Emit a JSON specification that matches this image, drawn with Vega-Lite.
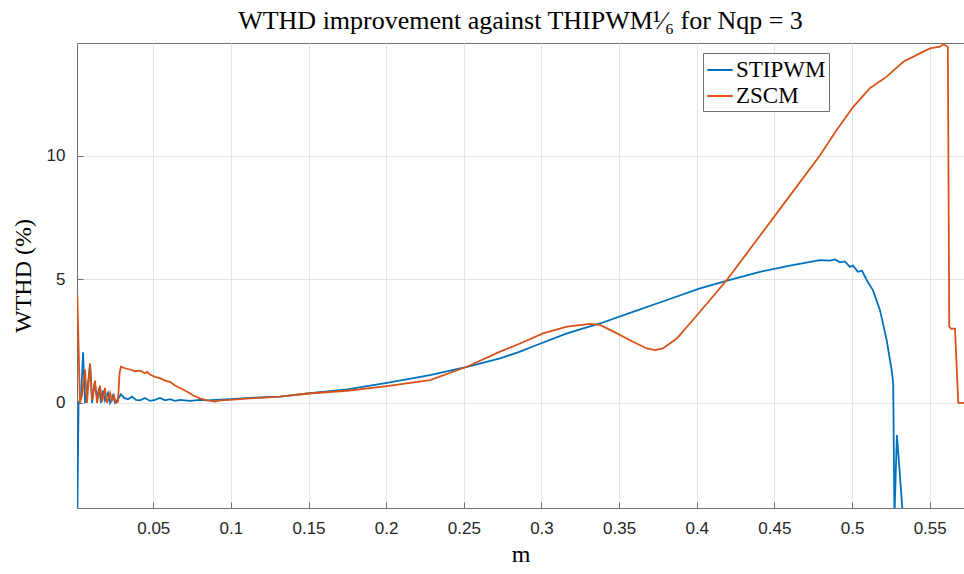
{
  "$schema": "https://vega.github.io/schema/vega-lite/v6.json",
  "width": 887,
  "height": 465,
  "autosize": {"type": "none"},
  "padding": {"left": 77, "top": 43, "right": 0, "bottom": 66},
  "background": "white",
  "title": {
    "text": "WTHD improvement against THIPWM¹⁄₆ for Nqp = 3",
    "font": "Liberation Serif",
    "fontSize": 26,
    "fontWeight": "normal",
    "color": "#000000",
    "anchor": "middle",
    "offset": 9
  },
  "config": {
    "view": {"stroke": "#707070", "strokeWidth": 1},
    "axis": {
      "labelFont": "Liberation Sans",
      "labelFontSize": 17,
      "labelColor": "#262626",
      "titleFont": "Liberation Serif",
      "titleFontSize": 24,
      "titleFontWeight": "normal",
      "titleColor": "#000000",
      "domainColor": "#707070",
      "tickColor": "#707070",
      "gridColor": "#e4e4e4",
      "gridWidth": 1
    },
    "legend": {
      "labelFont": "Liberation Serif",
      "labelFontSize": 23,
      "labelColor": "#000000"
    }
  },
  "data": {
    "values": [
      {"m": 0.0011, "v": -4.6, "s": "STIPWM"},
      {"m": 0.0019, "v": 0, "s": "STIPWM"},
      {"m": 0.0035, "v": 0.2, "s": "STIPWM"},
      {"m": 0.0048, "v": 2.05, "s": "STIPWM"},
      {"m": 0.0061, "v": 0, "s": "STIPWM"},
      {"m": 0.0077, "v": 0.6, "s": "STIPWM"},
      {"m": 0.0093, "v": 1.55, "s": "STIPWM"},
      {"m": 0.0106, "v": 0, "s": "STIPWM"},
      {"m": 0.0122, "v": 0.8, "s": "STIPWM"},
      {"m": 0.0138, "v": 0.2, "s": "STIPWM"},
      {"m": 0.0151, "v": 0.6, "s": "STIPWM"},
      {"m": 0.0164, "v": 0, "s": "STIPWM"},
      {"m": 0.0176, "v": 0.5, "s": "STIPWM"},
      {"m": 0.0189, "v": 0.1, "s": "STIPWM"},
      {"m": 0.0209, "v": 0.4, "s": "STIPWM"},
      {"m": 0.0222, "v": 0, "s": "STIPWM"},
      {"m": 0.0241, "v": 0.3, "s": "STIPWM"},
      {"m": 0.0254, "v": 0, "s": "STIPWM"},
      {"m": 0.0273, "v": 0.15, "s": "STIPWM"},
      {"m": 0.0292, "v": 0.35, "s": "STIPWM"},
      {"m": 0.0312, "v": 0.2, "s": "STIPWM"},
      {"m": 0.0337, "v": 0.15, "s": "STIPWM"},
      {"m": 0.0363, "v": 0.25, "s": "STIPWM"},
      {"m": 0.0389, "v": 0.12, "s": "STIPWM"},
      {"m": 0.0415, "v": 0.1, "s": "STIPWM"},
      {"m": 0.0447, "v": 0.2, "s": "STIPWM"},
      {"m": 0.0479, "v": 0.08, "s": "STIPWM"},
      {"m": 0.0511, "v": 0.12, "s": "STIPWM"},
      {"m": 0.0543, "v": 0.2, "s": "STIPWM"},
      {"m": 0.0576, "v": 0.1, "s": "STIPWM"},
      {"m": 0.0608, "v": 0.15, "s": "STIPWM"},
      {"m": 0.064, "v": 0.08, "s": "STIPWM"},
      {"m": 0.0672, "v": 0.12, "s": "STIPWM"},
      {"m": 0.0737, "v": 0.08, "s": "STIPWM"},
      {"m": 0.0801, "v": 0.12, "s": "STIPWM"},
      {"m": 0.0846, "v": 0.1, "s": "STIPWM"},
      {"m": 0.0898, "v": 0.12, "s": "STIPWM"},
      {"m": 0.0994, "v": 0.15, "s": "STIPWM"},
      {"m": 0.1123, "v": 0.2, "s": "STIPWM"},
      {"m": 0.1316, "v": 0.25, "s": "STIPWM"},
      {"m": 0.1496, "v": 0.38, "s": "STIPWM"},
      {"m": 0.1748, "v": 0.55, "s": "STIPWM"},
      {"m": 0.2005, "v": 0.81, "s": "STIPWM"},
      {"m": 0.2282, "v": 1.12, "s": "STIPWM"},
      {"m": 0.252, "v": 1.46, "s": "STIPWM"},
      {"m": 0.2733, "v": 1.8, "s": "STIPWM"},
      {"m": 0.2862, "v": 2.07, "s": "STIPWM"},
      {"m": 0.2945, "v": 2.28, "s": "STIPWM"},
      {"m": 0.3164, "v": 2.81, "s": "STIPWM"},
      {"m": 0.3377, "v": 3.21, "s": "STIPWM"},
      {"m": 0.3589, "v": 3.68, "s": "STIPWM"},
      {"m": 0.3808, "v": 4.16, "s": "STIPWM"},
      {"m": 0.4021, "v": 4.63, "s": "STIPWM"},
      {"m": 0.4214, "v": 4.97, "s": "STIPWM"},
      {"m": 0.4407, "v": 5.3, "s": "STIPWM"},
      {"m": 0.46, "v": 5.55, "s": "STIPWM"},
      {"m": 0.4793, "v": 5.77, "s": "STIPWM"},
      {"m": 0.4858, "v": 5.75, "s": "STIPWM"},
      {"m": 0.489, "v": 5.8, "s": "STIPWM"},
      {"m": 0.4922, "v": 5.68, "s": "STIPWM"},
      {"m": 0.4954, "v": 5.72, "s": "STIPWM"},
      {"m": 0.4986, "v": 5.5, "s": "STIPWM"},
      {"m": 0.5006, "v": 5.55, "s": "STIPWM"},
      {"m": 0.5038, "v": 5.3, "s": "STIPWM"},
      {"m": 0.5064, "v": 5.35, "s": "STIPWM"},
      {"m": 0.5094, "v": 4.97, "s": "STIPWM"},
      {"m": 0.5135, "v": 4.55, "s": "STIPWM"},
      {"m": 0.518, "v": 3.75, "s": "STIPWM"},
      {"m": 0.5223, "v": 2.54, "s": "STIPWM"},
      {"m": 0.5255, "v": 1.33, "s": "STIPWM"},
      {"m": 0.5265, "v": 0.79, "s": "STIPWM"},
      {"m": 0.5273, "v": -4.6, "s": "STIPWM"},
      {"m": 0.5289, "v": -1.3, "s": "STIPWM"},
      {"m": 0.5328, "v": -4.6, "s": "STIPWM"},
      {"m": 0.0011, "v": 4.36, "s": "ZSCM"},
      {"m": 0.0028, "v": 0, "s": "ZSCM"},
      {"m": 0.0041, "v": 0.3, "s": "ZSCM"},
      {"m": 0.0061, "v": 1.35, "s": "ZSCM"},
      {"m": 0.0073, "v": 0, "s": "ZSCM"},
      {"m": 0.0093, "v": 1.6, "s": "ZSCM"},
      {"m": 0.0106, "v": 0.1, "s": "ZSCM"},
      {"m": 0.0125, "v": 0.9, "s": "ZSCM"},
      {"m": 0.0138, "v": 0, "s": "ZSCM"},
      {"m": 0.0157, "v": 0.7, "s": "ZSCM"},
      {"m": 0.017, "v": 0.05, "s": "ZSCM"},
      {"m": 0.0189, "v": 0.6, "s": "ZSCM"},
      {"m": 0.0202, "v": 0, "s": "ZSCM"},
      {"m": 0.0222, "v": 0.4, "s": "ZSCM"},
      {"m": 0.0234, "v": 0.1, "s": "ZSCM"},
      {"m": 0.0247, "v": 0.3, "s": "ZSCM"},
      {"m": 0.026, "v": 0, "s": "ZSCM"},
      {"m": 0.0273, "v": 0.05, "s": "ZSCM"},
      {"m": 0.0283, "v": 1.2, "s": "ZSCM"},
      {"m": 0.0292, "v": 1.46, "s": "ZSCM"},
      {"m": 0.0318, "v": 1.4, "s": "ZSCM"},
      {"m": 0.035, "v": 1.35, "s": "ZSCM"},
      {"m": 0.0382, "v": 1.28, "s": "ZSCM"},
      {"m": 0.0415, "v": 1.3, "s": "ZSCM"},
      {"m": 0.0447, "v": 1.2, "s": "ZSCM"},
      {"m": 0.046, "v": 1.25, "s": "ZSCM"},
      {"m": 0.0479, "v": 1.15, "s": "ZSCM"},
      {"m": 0.0511, "v": 1.05, "s": "ZSCM"},
      {"m": 0.0543, "v": 1.0, "s": "ZSCM"},
      {"m": 0.0576, "v": 0.9, "s": "ZSCM"},
      {"m": 0.0608, "v": 0.85, "s": "ZSCM"},
      {"m": 0.064, "v": 0.7, "s": "ZSCM"},
      {"m": 0.0672, "v": 0.6, "s": "ZSCM"},
      {"m": 0.0704, "v": 0.5, "s": "ZSCM"},
      {"m": 0.0756, "v": 0.31, "s": "ZSCM"},
      {"m": 0.0801, "v": 0.18, "s": "ZSCM"},
      {"m": 0.0846, "v": 0.1, "s": "ZSCM"},
      {"m": 0.0898, "v": 0.05, "s": "ZSCM"},
      {"m": 0.093, "v": 0.1, "s": "ZSCM"},
      {"m": 0.0994, "v": 0.12, "s": "ZSCM"},
      {"m": 0.1123, "v": 0.18, "s": "ZSCM"},
      {"m": 0.1316, "v": 0.25, "s": "ZSCM"},
      {"m": 0.1496, "v": 0.38, "s": "ZSCM"},
      {"m": 0.1748, "v": 0.49, "s": "ZSCM"},
      {"m": 0.2005, "v": 0.68, "s": "ZSCM"},
      {"m": 0.2282, "v": 0.92, "s": "ZSCM"},
      {"m": 0.252, "v": 1.46, "s": "ZSCM"},
      {"m": 0.2733, "v": 2.07, "s": "ZSCM"},
      {"m": 0.2862, "v": 2.4, "s": "ZSCM"},
      {"m": 0.301, "v": 2.81, "s": "ZSCM"},
      {"m": 0.3164, "v": 3.08, "s": "ZSCM"},
      {"m": 0.3312, "v": 3.19, "s": "ZSCM"},
      {"m": 0.3377, "v": 3.15, "s": "ZSCM"},
      {"m": 0.3486, "v": 2.81, "s": "ZSCM"},
      {"m": 0.3589, "v": 2.47, "s": "ZSCM"},
      {"m": 0.3679, "v": 2.2, "s": "ZSCM"},
      {"m": 0.3731, "v": 2.13, "s": "ZSCM"},
      {"m": 0.3782, "v": 2.2, "s": "ZSCM"},
      {"m": 0.3873, "v": 2.61, "s": "ZSCM"},
      {"m": 0.3975, "v": 3.35, "s": "ZSCM"},
      {"m": 0.4085, "v": 4.16, "s": "ZSCM"},
      {"m": 0.4194, "v": 4.97, "s": "ZSCM"},
      {"m": 0.4407, "v": 6.76, "s": "ZSCM"},
      {"m": 0.46, "v": 8.38, "s": "ZSCM"},
      {"m": 0.4793, "v": 10.0, "s": "ZSCM"},
      {"m": 0.4901, "v": 11.03, "s": "ZSCM"},
      {"m": 0.5008, "v": 11.97, "s": "ZSCM"},
      {"m": 0.5115, "v": 12.72, "s": "ZSCM"},
      {"m": 0.5223, "v": 13.19, "s": "ZSCM"},
      {"m": 0.533, "v": 13.79, "s": "ZSCM"},
      {"m": 0.5437, "v": 14.13, "s": "ZSCM"},
      {"m": 0.5502, "v": 14.33, "s": "ZSCM"},
      {"m": 0.5566, "v": 14.4, "s": "ZSCM"},
      {"m": 0.5587, "v": 14.5, "s": "ZSCM"},
      {"m": 0.5617, "v": 14.4, "s": "ZSCM"},
      {"m": 0.5626, "v": 3.08, "s": "ZSCM"},
      {"m": 0.5637, "v": 3.0, "s": "ZSCM"},
      {"m": 0.5663, "v": 3.0, "s": "ZSCM"},
      {"m": 0.5684, "v": 0, "s": "ZSCM"},
      {"m": 0.5721, "v": 0, "s": "ZSCM"}
    ]
  },
  "mark": {"type": "line", "strokeWidth": 1.8, "clip": true, "interpolate": "linear"},
  "encoding": {
    "x": {
      "field": "m",
      "type": "quantitative",
      "scale": {"domain": [0.0009, 0.5721], "nice": false, "zero": false},
      "axis": {
        "title": "m",
        "values": [0.05, 0.1, 0.15, 0.2, 0.25, 0.3, 0.35, 0.4, 0.45, 0.5, 0.55],
        "format": ".2~f",
        "tickSize": -6,
        "labelPadding": 18,
        "titlePadding": 6,
        "grid": true
      }
    },
    "y": {
      "field": "v",
      "type": "quantitative",
      "scale": {"domain": [-4.25, 14.55], "nice": false, "zero": false},
      "axis": {
        "title": "WTHD (%)",
        "values": [0, 5, 10],
        "tickSize": -6,
        "labelPadding": 18,
        "titlePadding": 11,
        "grid": true
      }
    },
    "color": {
      "field": "s",
      "type": "nominal",
      "scale": {"domain": ["STIPWM", "ZSCM"], "range": ["#0072BD", "#D95319"]},
      "legend": {
        "title": null,
        "orient": "none",
        "legendX": 626,
        "legendY": 10,
        "symbolType": "stroke",
        "symbolSize": 650,
        "symbolStrokeWidth": 2,
        "rowPadding": 0,
        "padding": 3,
        "strokeColor": "#707070",
        "fillColor": "#ffffff",
        "labelOffset": 2
      }
    }
  }
}
